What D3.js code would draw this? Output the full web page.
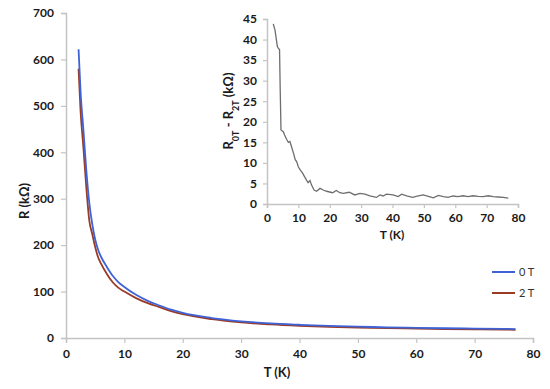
<html>
<head>
<style>
  body { margin: 0; background: #fff; }
  text { font-family: Lato, "Open Sans", sans-serif; }
</style>
</head>
<body>
<svg id="container" width="550" height="389"></svg>
<script src="https://cdn.jsdelivr.net/npm/d3@7"></script>
<script>
// main chart data: R (kOhm) vs T (K)
let temps = [2.15, 2.5, 3.0, 3.5, 4.0, 4.5, 5.0, 5.5, 6.0, 7.0, 8.0, 9.0, 10, 12, 14, 16, 18, 20, 25, 30, 35, 40, 45, 50, 55, 60, 65, 70, 75, 77]
let r0T = [622, 530, 445, 358, 290, 245, 212, 190, 175, 153, 134, 120, 110, 93, 80, 70, 61, 54, 43, 36, 31.5, 28.5, 26, 24.5, 23, 22, 21, 20.3, 19.6, 19.3]
let r2T = [580, 488, 407, 321, 252, 224, 196, 174, 160, 138, 120, 108, 100, 86, 75, 66.5, 57.8, 51.2, 40.5, 33.6, 29.4, 26.4, 24.1, 22.6, 21.1, 20.2, 19.2, 18.5, 18.0, 17.8]
let seriesNames = ["0 T", "2 T"]
let seriesColors = ["#3f63d6", "#9a3b26"]
let xTicks = [0, 10, 20, 30, 40, 50, 60, 70, 80]
let yTicks = [0, 100, 200, 300, 400, 500, 600, 700]

// inset data: R0T - R2T (kOhm)
let insetT = [2.0, 2.55, 3.3, 3.6, 4.0, 4.2, 4.46, 5.2, 5.6, 6.3, 6.8, 7.3, 7.8, 8.5, 9.0, 9.45, 10.0, 10.7, 11.35, 12.0, 12.6, 13.1, 13.7, 14.2, 15.0, 15.8, 16.9, 17.9, 19.0, 20.9, 22.1, 23.2, 24.3, 26.2, 28.0, 29.6, 31.2, 32.8, 34.9, 36.0, 37.0, 38.1, 40.2, 41.8, 42.9, 44.5, 46.4, 48.2, 49.8, 51.7, 53.0, 54.6, 56.2, 57.7, 59.3, 60.9, 62.5, 64.1, 65.7, 67.3, 68.9, 70.5, 72.1, 73.7, 75.3, 76.9]
let insetD = [43.8, 42.3, 38.3, 37.9, 37.5, 28.2, 18.0, 17.6, 16.8, 15.7, 15.0, 15.2, 14.0, 12.2, 10.8, 10.3, 9.0, 8.2, 7.5, 6.6, 5.8, 5.2, 5.7, 4.6, 3.4, 3.1, 3.8, 3.4, 3.1, 2.75, 3.3, 2.75, 2.6, 2.85, 2.2, 2.6, 2.4, 1.95, 1.6, 2.2, 1.95, 2.4, 2.2, 1.8, 2.4, 1.95, 1.6, 1.95, 2.2, 1.8, 1.5, 2.1, 1.8, 1.6, 1.95, 1.8, 2.0, 1.8, 2.0, 1.85, 1.8, 2.0, 1.8, 1.7, 1.6, 1.45]
let insetXTicks = [0, 10, 20, 30, 40, 50, 60, 70, 80]
let insetYTicks = [0, 5, 10, 15, 20, 25, 30, 35, 40, 45]

let svg = d3.select("#container")
let axisColor = "#c4c4c4"
let labelColor = "#1a1a1a"

// ---- main chart ----
let x = d3.scaleLinear().domain([0, 80]).range([66, 533])
let y = d3.scaleLinear().domain([0, 700]).range([338, 13])

let xAxis = svg.append("g").attr("transform", "translate(0,338)")
    .call(d3.axisBottom(x).tickValues(xTicks).tickSize(5).tickPadding(6))
let yAxis = svg.append("g").attr("transform", "translate(66,0)")
    .call(d3.axisLeft(y).tickValues(yTicks).tickSize(5).tickPadding(7))

function styleAxis(g, size) {
    g.select(".domain").attr("stroke", axisColor).attr("stroke-width", 1.5)
    g.selectAll(".tick line").attr("stroke", axisColor).attr("stroke-width", 1.2)
    g.selectAll(".tick text").attr("fill", labelColor)
        .style("font-size", size + "px").style("font-weight", "bold")
        .style("font-family", "Lato, 'Open Sans', sans-serif")
}
styleAxis(xAxis, 12)
styleAxis(yAxis, 12)

let line = d3.line()
    .x((d, i) => x(temps[i]))
    .y(d => y(d))
    .curve(d3.curveMonotoneX)

// draw 2 T under 0 T
svg.append("path").attr("d", line(r2T))
    .attr("fill", "none").attr("stroke", seriesColors[1]).attr("stroke-width", 1.8)
svg.append("path").attr("d", line(r0T))
    .attr("fill", "none").attr("stroke", seriesColors[0]).attr("stroke-width", 1.8)

svg.append("text").text("T (K)")
    .attr("x", 277).attr("y", 377).attr("text-anchor", "middle")
    .style("font-size", "13px").style("font-weight", "bold").attr("fill", labelColor)
svg.append("text").text("R (kΩ)")
    .attr("transform", "translate(29,201) rotate(-90)").attr("text-anchor", "middle")
    .style("font-size", "13px").style("font-weight", "bold").attr("fill", labelColor)

// legend
let legend = svg.append("g")
seriesNames.forEach((name, i) => {
    let ly = 272 + i * 21
    legend.append("line").attr("x1", 492).attr("x2", 515).attr("y1", ly).attr("y2", ly)
        .attr("stroke", seriesColors[i]).attr("stroke-width", 2)
    legend.append("text").text(name).attr("x", 519).attr("y", ly + 4)
        .style("font-size", "11px").attr("fill", "#333")
})

// ---- inset ----
let ix = d3.scaleLinear().domain([0, 80]).range([267, 518])
let iy = d3.scaleLinear().domain([0, 45]).range([204, 19])

let ixAxis = svg.append("g").attr("transform", "translate(0,204)")
    .call(d3.axisBottom(ix).tickValues(insetXTicks).tickSize(4).tickPadding(5))
let iyAxis = svg.append("g").attr("transform", "translate(267,0)")
    .call(d3.axisLeft(iy).tickValues(insetYTicks).tickSize(4).tickPadding(6))
styleAxis(ixAxis, 12)
styleAxis(iyAxis, 12)

let insetLine = d3.line()
    .x((d, i) => ix(insetT[i]))
    .y(d => iy(d))
svg.append("path").attr("d", insetLine(insetD))
    .attr("fill", "none").attr("stroke", "#6e6e6e").attr("stroke-width", 1.3)

svg.append("text").text("T (K)")
    .attr("x", 392).attr("y", 239).attr("text-anchor", "middle")
    .style("font-size", "12px").style("font-weight", "bold").attr("fill", labelColor)

let iyLabel = svg.append("text")
    .attr("transform", "translate(233,111) rotate(-90)").attr("text-anchor", "middle")
    .style("font-size", "13px").style("font-weight", "bold").attr("fill", labelColor)
iyLabel.append("tspan").text("R")
iyLabel.append("tspan").text("0T").attr("baseline-shift", "sub").style("font-size", "9px")
iyLabel.append("tspan").text(" - R")
iyLabel.append("tspan").text("2T").attr("baseline-shift", "sub").style("font-size", "9px")
iyLabel.append("tspan").text(" (kΩ)")
</script>
</body>
</html>
